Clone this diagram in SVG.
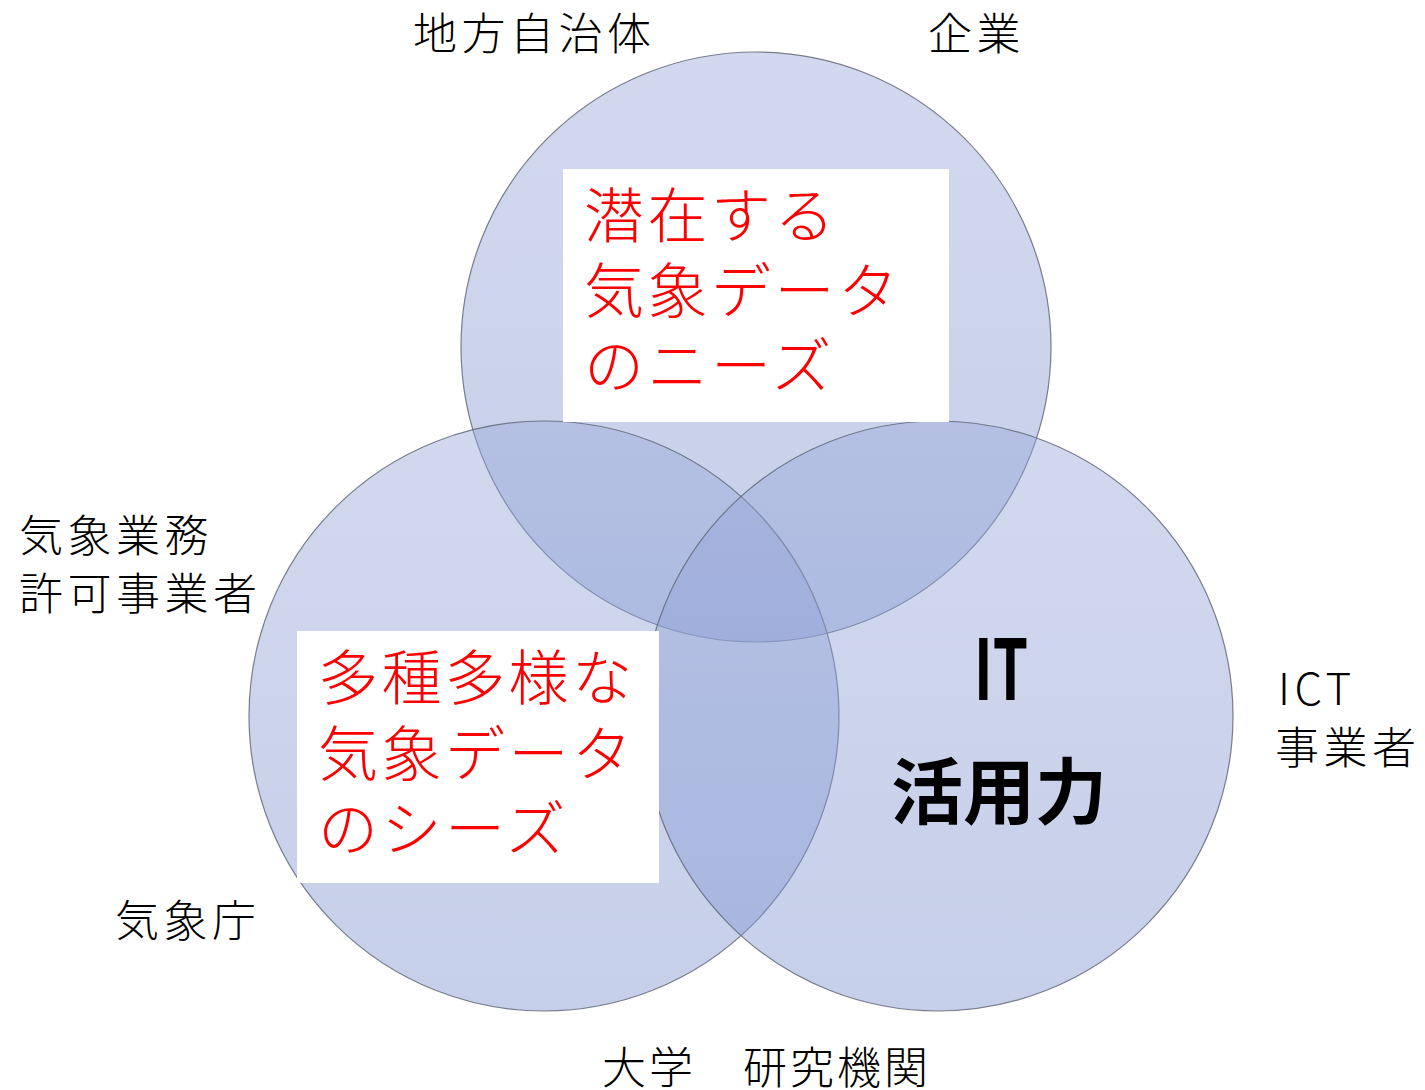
<svg xmlns="http://www.w3.org/2000/svg" width="1425" height="1090" viewBox="0 0 1425 1090">
<defs>
<linearGradient id="cg" x1="0" y1="0" x2="0" y2="1">
<stop offset="0" stop-color="rgb(152,168,216)"/>
<stop offset="1" stop-color="rgb(126,146,207)"/>
</linearGradient>
<style>
.c{fill:url(#cg);fill-opacity:0.44;stroke:rgb(100,106,122);stroke-opacity:0.85;stroke-width:1.2}
.lbl{font-family:"Noto Sans CJK JP","Noto Sans",sans-serif;font-size:44px;font-weight:300;fill:#000;letter-spacing:4.5px}
.red{font-family:"Noto Sans CJK JP","Noto Sans",sans-serif;font-size:60px;font-weight:300;fill:#FF0000;letter-spacing:3.5px}
.big{font-family:"Noto Sans CJK JP","Noto Sans",sans-serif;font-weight:700;fill:#000;text-anchor:middle}
.box{fill:#FFFFFF}
</style>
</defs>
<rect width="1425" height="1090" fill="#FFFFFF"/>
<g id="circle-top"><circle class="c" cx="756" cy="347" r="295"/></g>
<g id="circle-left"><circle class="c" cx="544" cy="716" r="295"/></g>
<g id="circle-right"><circle class="c" cx="938" cy="716" r="295"/></g>
<g id="needs-box">
<rect class="box" x="563" y="169" width="386" height="253"/>
<text class="red" x="584" y="238">潜在する</text>
<text class="red" x="584" y="313">気象データ</text>
<text class="red" x="584" y="388">のニーズ</text>
</g>
<g id="seeds-box">
<rect class="box" x="297" y="631" width="362" height="252"/>
<text class="red" x="318" y="700">多種多様な</text>
<text class="red" x="318" y="776">気象データ</text>
<text class="red" x="318" y="851">のシーズ</text>
</g>
<g id="it-label">
<text class="big" x="1001" y="700" font-size="84" textLength="54" lengthAdjust="spacingAndGlyphs">IT</text>
<text class="big" x="999" y="818" font-size="72">活用力</text>
</g>
<g id="label-local-gov"><text class="lbl" x="413" y="50">地方自治体</text></g>
<g id="label-company"><text class="lbl" x="928" y="50">企業</text></g>
<g id="label-licensed"><text class="lbl" x="19" y="552">気象業務</text><text class="lbl" x="19" y="610">許可事業者</text></g>
<g id="label-jma"><text class="lbl" x="115" y="937">気象庁</text></g>
<g id="label-ict"><text class="lbl" x="1278" y="705">ICT</text><text class="lbl" x="1275" y="764">事業者</text></g>
<g id="label-univ"><text class="lbl" x="602" y="1084" style="letter-spacing:3px">大学　研究機関</text></g>
</svg>
